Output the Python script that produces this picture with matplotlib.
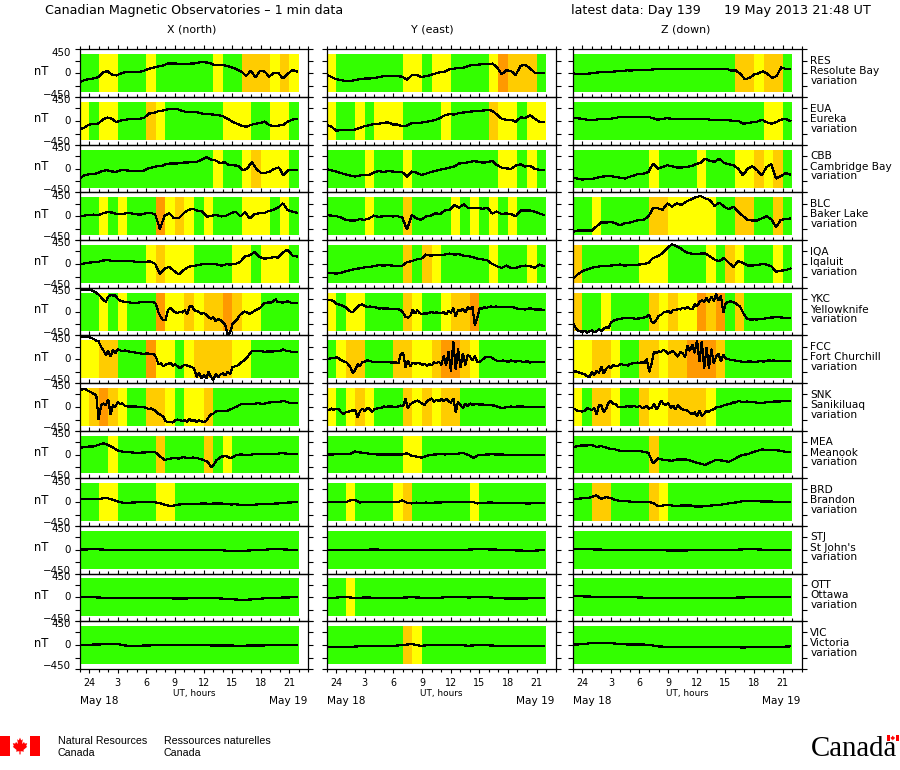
#!/usr/bin/env python3
# Canadian magnetic observatories, 1 min data stack plot
import numpy as np
import matplotlib
matplotlib.use('Agg')
import matplotlib.pyplot as plt
from matplotlib.patches import Polygon, Rectangle

W, H = 900, 770

station_codes = ['RES', 'EUA', 'CBB', 'BLC', 'IQA', 'YKC', 'FCC', 'SNK', 'MEA', 'BRD', 'STJ', 'OTT', 'VIC']
station_names = ['Resolute Bay', 'Eureka', 'Cambridge Bay', 'Baker Lake', 'Iqaluit', 'Yellowknife',
                 'Fort Churchill', 'Sanikiluaq', 'Meanook', 'Brandon', "St John's", 'Ottawa', 'Victoria']
component_titles = ['X (north)', 'Y (east)', 'Z (down)']
hour_ticks = [0, 3, 6, 9, 12, 15, 18, 21]
hour_labels = ['24', '3', '6', '9', '12', '15', '18', '21']

### activity blocks, one letter per hour starting at 23 UT (G green, Y yellow, A amber, O orange)
res_x_act = "GGYYGGGYGGGGGGYGGAAAYAY"
eua_x_act = "YGYYGGGAYGGGGGGYYYGGYYG"
cbb_x_act = "GGGGGGGGGGGGGGYGGYAYYYG"
blc_x_act = "GGYGYGGGOYAYGYGGGYYYGYG"
iqa_x_act = "GGGGGGGYAYYYGGGGYYGYYYG"
ykc_x_act = "GGYGYGGGOYYAYAAOAYYGGGG"
fcc_x_act = "YYAAGGGOYYGYAAAAYYGGGGG"
snk_x_act = "YAOAYGGAAYGYYAGGGGGGGGG"
mea_x_act = "GGGYGGGGAGGGGAGYGGGGGGG"
brd_x_act = "GGYYGGGGYYGGGGGGGGGGGGG"
stj_x_act = "GGGGGGGGGGGGGGGGGGGGGGG"
ott_x_act = "GGGGGGGGGGGGGGGGGGGGGGG"
vic_x_act = "GGGGGGGGGGGGGGGGGGGGGGG"

res_y_act = "YGGGGGGGYYGYYGGGGYOAAAG"
eua_y_act = "YGGYGYYYGGGGYGGGGAYYGYY"
cbb_y_act = "GGGGYGGGYGGGGGGGGGYYGYG"
blc_y_act = "GGGGYGGGAGGGGYGYGYGYGGG"
iqa_y_act = "GGGGGGGGAGAYGGGGGYGGGYG"
ykc_y_act = "YGYYGGGGAYGGYAAOGGGGGGG"
fcc_y_act = "GYAAGGGAAYYAOOAYGGGGGGG"
snk_y_act = "YGYAYGGGAYAYAAGGGGGGGGG"
mea_y_act = "GGGGGGGGYYGGGGGGGGGGGGG"
brd_y_act = "GGYGGGGYAGGGGGGYGGGGGGG"
stj_y_act = "GGGGGGGGGGGGGGGGGGGGGGG"
ott_y_act = "GGYGGGGGGGGGGGGGGGGGGGG"
vic_y_act = "GGGGGGGGAYGGGGGGGGGGGGG"

res_z_act = "GGGGGGGGGGGGGGGGGAAYAAG"
eua_z_act = "GGGGGGGGGGGGGGGGGGGGYYG"
cbb_z_act = "GGGGGGGGYGGGGYGGGYYAYAG"
blc_z_act = "GGYGGGGGAAYYYYYGGAAGGAG"
iqa_z_act = "AGGGGGGYYYGGGGYGAYGGGYG"
ykc_z_act = "AGGYGGGGAYAYYOAOGAGGGGG"
fcc_z_act = "YYAAYGGAAYAAOOOAGGGGGGG"
snk_z_act = "YGAAYGGAYYAAAAYGGGGGGGG"
mea_z_act = "GGGGGGGGAGGGGGGGGGGGGGG"
brd_z_act = "GGAAGGGGAYGGGGGGGGGGGGG"
stj_z_act = "GGGGGGGGGGGGGGGGGGGGGGG"
ott_z_act = "GGGGGGGGGGGGGGGGGGGGGGG"
vic_z_act = "GGGGGGGGGGGGGGGGGGGGGGG"

### variation in nT, evenly spaced from 23 UT to 21:48 UT
res_x = [-215,-165,-140,-120,-95,15,50,-30,-50,0,30,30,25,30,65,110,135,165,180,230,235,230,220,220,230,235,260,260,250,200,205,195,175,135,95,40,-65,60,-95,60,40,-80,15,0,-125,-15,80,40]
eua_x = [-205,-160,-90,-65,-65,30,80,50,-30,15,30,50,50,50,80,175,190,230,245,275,290,290,245,215,205,215,190,165,160,150,140,110,50,-15,-65,-110,-140,-95,-65,-50,-15,-95,-125,-110,-95,-15,30,50]
cbb_x = [-230,-165,-135,-125,-110,-55,-40,-65,-80,-40,-40,-50,-50,-65,-55,0,25,55,55,100,120,120,125,145,145,165,165,215,275,215,195,135,150,80,80,65,-40,0,155,0,-100,-100,-70,-5,25,-160,-40,-40,-30]
blc_x = [0,15,30,40,25,70,100,85,45,45,75,70,45,40,70,80,45,-300,15,70,-50,-50,70,150,175,130,110,-10,15,30,-5,15,70,110,-5,95,-50,50,70,70,125,150,205,305,150,110,85]
iqa_x = [-15,10,30,40,50,80,90,70,70,60,65,65,50,50,50,60,0,-240,-110,-70,-170,-250,-150,-70,-50,-30,-10,0,-5,-10,-40,-10,-15,0,50,180,205,275,165,125,135,160,150,270,340,200,175]
ykc_x = [510,515,520,520, 515,505,480,450, 400,340,280,230, 350,390,380,385,
         300,260,240,225, 230,215,210,205, 210,215,225,225, 230,225,225,225,
         180,-20,-130,-210, -190,40,80,30, -20,-30,-10,-20, 30,-60,110,140,
         30,10,-10,-60, -30,-80,-130,-170, -140,-230,-180,-200, -250,-320,-560,-500,
         -300,-240,-180,-90, -40,0,-20,-50, -30,10,40,70, 110,190,200,215,
         210,240,290,220, 220,210,230,240, 220,200,200,210]
fcc_x = [540,535,530,525, 525,500,480,440, 420,300,210,100, 200,60,220,140,
         240,210,190,210, 195,180,170,160, 150,145,130,125, 140,130,125,130,
         50,-120,-100,-170, -130,-110,-90,-150, -120,-170,-210,-170, -130,-150,-170,-180,
         -230,-420,-320,-450, -380,-460,-300,-420, -490,-350,-430,-360, -340,-380,-300,-350,
         -190,-170,-150,-110, -60,-20,40,110, 190,195,190,190, 200,180,180,185,
         180,185,190,190, 200,230,210,190, 190,165,170,175]
snk_x = [400,410,430,400, 370,340,300,280, -300,30,80,40, 170,-170,40,0,
         110,70,80,20, 10,10,10,10, 5,0,0,-5, -30,-50,-40,-70,
         -100,-170,-190,-230, -340,-360,-360,-370, -320,-300,-320,-330, -320,-350,-290,-340,
         -300,-360,-320,-340, -360,-330,-250,-170, -160,-110,-100,-105, -100,-100,-90,-60,
         -40,-10,10,50, 70,70,65,60, 70,65,85,85, 75,75,85,100,
         105,110,110,120, 120,140,130,110, 95,90,85,85]
mea_x = [165,170,190,190,230,265,230,170,100,70,50,50,40,45,50,50,55,-40,-130,-100,-80,-100,-60,-90,-70,-90,-120,-170,-310,-130,-50,-40,-90,-20,0,-5,-10,10,15,10,15,5,20,35,15,15,20]
brd_x = [70,70,70,70,75,90,90,60,20,-10,-15,-10,-5,-5,-5,-5,-5,-20,-60,-90,-80,-55,-50,-50,-50,-40,-30,-35,-35,-30,-30,-45,-55,-50,-65,-75,-75,-60,-50,-50,-40,-35,-30,-20,-10,-5,0]
stj_x = [5,10,10,0,0,0,-5,5,5,0,5,5,5,5,0,-10,-30,-30,-15,-10,10,15,5,5]
ott_x = [15,5,0,-15,-20,-15,-10,-10,-10,-15,-25,-25,-20,-10,-10,-25,-40,-55,-50,-30,-15,-5,0,5]
vic_x = [10,10,15,20,25,-15,-15,-10,-5,-5,5,10,10,5,-10,-10,-10,-15,-10,-10,-5,5,0,5]

res_y = [-40,-85,-140,-160,-180,-180,-165,-140,-125,-125,-110,-95,-70,-65,-70,-70,-80,-150,-50,-40,-85,-70,-40,-5,25,40,95,110,135,135,175,200,205,215,215,230,150,-25,70,55,-40,175,200,120,15,15,15]
eua_y = [-95,-135,-230,-220,-215,-205,-205,-165,-125,-100,-70,-65,-50,-30,-85,-85,-125,-110,-55,-40,-40,-25,0,25,70,135,165,150,190,200,215,230,245,245,260,245,150,55,25,30,-25,85,70,135,55,-25,-25]
cbb_y = [-15,-40,-70,-105,-135,-165,-190,-165,-150,-150,-95,-55,-85,-55,-70,-85,-85,-190,-70,-95,-150,-120,-85,-55,-25,-5,25,50,120,135,150,175,165,140,150,180,85,25,5,-5,70,100,50,70,-5,-30,-30]
blc_y = [30,15,5,-30,-85,-100,-100,-70,-85,-50,15,-15,0,5,-5,0,-30,-320,30,-50,-85,-5,15,70,50,135,150,270,205,285,190,190,205,175,205,65,110,50,70,50,0,135,135,135,110,65,30]
iqa_y = [-215,-215,-230,-215,-175,-150,-120,-105,-85,-70,-55,-30,-40,-30,-40,-55,-40,40,65,105,120,220,195,210,220,220,245,220,230,195,180,160,120,105,85,0,-55,-95,-40,-95,-95,-55,-40,-55,-95,-15,-55]
ykc_y = [260,270,265,250, 180,170,150,130, 100,50,0,-20, 60,120,160,170,
         130,110,120,100, 110,90,70,80, 70,75,70,70, 70,70,60,30,
         -30,-130,-140,-110, 40,-50,30,-40, -60,-40,-50,-30, -10,-30,-20,-30,
         -30,-20,-70,20, -30,80,-120,40, 20,70,-20,100, 50,120,-320,-160,
         80,70,100,90, 110,120,100,120, 100,110,100,100, 110,110,110,80,
         70,70,60,50, 60,80,60,50, 50,50,45,45]
fcc_y = [10,10,30,20, 50,20,-20,-50, -60,-120,-200,-340, -240,-120,-170,-60,
         -60,-30,-40,-60, -70,-70,-70,-75, -70,-70,-65,-80, -75,-80,-100,110,
         150,-190,-30,-170, -80,-110,-90,-100, -130,-110,-150,-120, -140,-80,-90,-60,
         -130,80,-150,170, -280,420,-250,250, -200,140,-140,100, 60,-30,70,-60,
         -60,-20,30,60, 60,40,0,-30, -50,-40,-30,-50, -60,-30,-40,-60,
         -40,-40,-70,-70, -40,-80,-70,-70, -60,-70,-70,-70]
snk_y = [-50,-80,-40,-70, -50,-50,-120,-170, -130,-120,-100,-80, -90,-250,-100,-40,
         -100,-30,-40,-120, -60,-40,-20,-20, 10,0,10,10, 0,-10,10,30,
         10,200,-40,60, 100,130,150,120, 70,50,140,170, 200,120,170,130,
         180,140,190,130, 100,200,-130,120, 40,-30,70,20, 80,50,60,70,
         50,60,50,40, 50,40,30,20, -10,-20,-20,-10, -10,10,-5,0,
         10,10,10,0, 0,-5,-10,0, 0,0,0,0]
mea_y = [0,0,5,10,15,15,70,50,35,20,5,0,0,0,0,0,0,30,-30,-50,-75,-40,-5,0,15,0,20,5,25,30,-10,-85,-15,-5,0,5,0,0,-5,-5,-5,-15,-15,-15,-15,-20,-20]
brd_y = [-5,0,5,0,-5,45,50,-10,5,0,0,0,0,0,0,0,40,-15,-30,-10,-25,-10,-15,-10,-10,5,-5,5,5,5,5,0,-30,-25,-10,-10,-15,-15,-20,-15,-15,-15,-30,-30,-15,-20,-20]
stj_y = [-5,-5,-5,-10,0,10,0,0,0,0,0,0,5,5,5,5,15,10,5,0,-15,-20,-20,-5]
ott_y = [-5,-5,15,-15,0,-5,-5,-5,-5,5,-5,-5,-5,10,15,0,5,5,-10,-25,-25,-25,-15,-15]
vic_y = [-40,-40,-40,-35,-20,-20,-20,-20,0,25,-20,10,10,10,5,-15,0,-5,-15,-15,-20,-15,-20,-20]

res_z = [0,-15,-15,-15,0,15,25,30,30,40,50,55,70,65,80,80,80,85,95,105,105,105,105,105,105,105,110,110,105,105,110,105,105,105,105,65,65,-15,-140,-110,-30,0,50,-15,-110,-65,140,105,95]
eua_z = [70,65,50,30,30,30,50,50,50,70,95,95,95,95,95,95,95,65,30,50,65,50,50,50,50,50,50,50,50,30,25,25,25,15,5,5,-65,-50,-30,-15,30,-30,-65,-30,30,50,0]
cbb_z = [-215,-235,-260,-250,-245,-220,-195,-180,-180,-195,-215,-235,-195,-160,-120,-120,-80,120,0,40,80,55,25,25,40,55,105,135,235,180,160,235,135,105,80,0,-160,0,55,-40,-160,40,105,-235,-180,-105,-140]
blc_z = [-370,-340,-340,-340,-340,-245,-150,-150,-135,-165,-215,-165,-150,-120,-85,-85,-5,190,190,150,305,230,305,265,345,400,450,480,425,385,245,325,230,165,230,110,5,-85,-100,-100,-50,0,-70,-260,-85,-65,-55]
iqa_z = [-370,-250,-175,-135,-95,-70,-55,-50,-40,-30,-15,-40,-25,-25,-15,-5,25,140,180,260,380,460,420,355,275,245,235,245,245,180,100,65,140,25,-70,65,25,-40,-40,-25,-5,-15,-55,-190,-160,-150,-110]
ykc_z = [-260,-370,-440,-470, -480,-450,-500,-470, -450,-490,-470,-420, -470,-400,-370,-400,
         -260,-220,-200,-180, -170,-160,-150,-150, -150,-160,-170,-170, -160,-160,-140,-130,
         -70,-240,-270,-190, -100,-80,-20,-10, 10,-30,40,30, 60,50,90,70,
         100,70,50,170, 120,220,270,230, 320,230,360,250, 420,260,370,-30,
         200,230,240,220, 210,160,120,0, -100,-170,-190,-190, -185,-190,-180,-170,
         -170,-160,-150,-140, -140,-120,-130,-140, -145,-145,-150,-150]
fcc_z = [-270,-290,-300,-320, -340,-360,-400,-430, -310,-380,-270,-320, -180,-340,-230,-170,
         -210,-130,-170,-160, -110,-130,-140,-150, -110,-100,-90,-80, -90,-70,-90,10,
         -300,-100,170,150, 190,170,230,180, 130,170,190,130, 60,170,140,50,
         320,200,350,150, 450,-60,430,-220, 280,-220,240,-100, 60,130,-50,110,
         15,10,-20,-20, -30,-50,-50,-60, -70,-60,-50,-60, -60,-60,-50,-50,
         -60,-40,-25,-40, -30,-40,-45,-45, -50,-50,-50,-50]
snk_z = [-30,-60,-90,-90, -110,-100,-30,-50, -80,-30,-170,30, 30,-130,-40,100,
         150,60,70,-10, 5,-10,5,15, 5,10,15,-10, 30,-30,-10,20,
         -40,-30,80,-60, 20,150,60,50, 90,-20,30,-60, 40,-30,-60,-80,
         -90,-140,-170,-130, -220,-100,-210,-170, -90,-120,-70,-60, -10,-10,10,30,
         50,60,70,110, 100,130,130,110, 110,130,110,110, 110,100,95,90,
         100,110,110,120, 125,125,125,130, 135,135,130,130]
mea_z = [165,200,215,215,230,180,200,165,135,120,85,85,85,80,80,65,40,-215,-95,-120,-135,-150,-120,-120,-120,-150,-190,-215,-250,-195,-140,-135,-150,-175,-120,-55,-5,5,55,85,120,105,105,105,85,65,65]
brd_z = [70,80,90,95,120,160,80,120,100,50,30,25,15,5,5,5,0,-15,-95,-80,-65,-80,-95,-80,-80,-80,-105,-105,-95,-85,-70,-65,-50,-30,-15,0,25,25,25,25,15,15,15,5,5,0,0]
stj_z = [15,15,10,5,5,5,0,0,0,-10,-15,-15,-15,-10,-5,0,0,0,10,15,5,0,0,0]
ott_z = [25,25,20,15,10,5,5,0,-10,-15,-15,-15,-15,-10,-5,-5,-5,-5,0,5,5,5,5,5]
vic_z = [10,20,50,55,50,20,15,15,10,-30,-40,-40,-40,-40,-40,-40,-40,-40,-60,-40,-40,-40,-40,-30]

x_rows = [res_x, eua_x, cbb_x, blc_x, iqa_x, ykc_x, fcc_x, snk_x, mea_x, brd_x, stj_x, ott_x, vic_x]
y_rows = [res_y, eua_y, cbb_y, blc_y, iqa_y, ykc_y, fcc_y, snk_y, mea_y, brd_y, stj_y, ott_y, vic_y]
z_rows = [res_z, eua_z, cbb_z, blc_z, iqa_z, ykc_z, fcc_z, snk_z, mea_z, brd_z, stj_z, ott_z, vic_z]
x_acts = [res_x_act, eua_x_act, cbb_x_act, blc_x_act, iqa_x_act, ykc_x_act, fcc_x_act, snk_x_act, mea_x_act, brd_x_act, stj_x_act, ott_x_act, vic_x_act]
y_acts = [res_y_act, eua_y_act, cbb_y_act, blc_y_act, iqa_y_act, ykc_y_act, fcc_y_act, snk_y_act, mea_y_act, brd_y_act, stj_y_act, ott_y_act, vic_y_act]
z_acts = [res_z_act, eua_z_act, cbb_z_act, blc_z_act, iqa_z_act, ykc_z_act, fcc_z_act, snk_z_act, mea_z_act, brd_z_act, stj_z_act, ott_z_act, vic_z_act]

level_colors = {'G': '#33ff00', 'Y': '#ffff00', 'A': '#ffcc00', 'O': '#ff9900'}

col_lefts = [79.5, 326.6, 572.7]
col_width = 229.0
row_zero = 73.3
row_step = 47.65
row_half = row_step / 2
ylim = 565


def fx(px):
    return px / W


def fy(py):
    return 1 - py / H


def put(px, py, s, **kw):
    kw.setdefault('va', 'center')
    kw.setdefault('color', 'k')
    return fig.text(fx(px), fy(py), s, **kw)


def flag(x0, y0, w, h):
    # red bars and the maple leaf
    bar = w / 4
    for left in (x0, x0 + w - bar):
        fig.patches.append(Rectangle((fx(left), fy(y0 + h)), bar / W, h / H,
                                     transform=fig.transFigure, color='#ff0000', lw=0))
    leaf = [(0, -.42), (.06, -.28), (.14, -.34), (.1, -.1), (.2, -.2), (.24, -.12), (.36, -.14), (.31, 0),
            (.36, .04), (.17, .2), (.2, .28), (.03, .26), (.03, .42), (-.03, .42), (-.03, .26), (-.2, .28),
            (-.17, .2), (-.36, .04), (-.31, 0), (-.36, -.14), (-.24, -.12), (-.2, -.2), (-.1, -.1), (-.14, -.34), (-.06, -.28)]
    cx, cy = x0 + w / 2, y0 + h / 2
    pts = [(fx(cx + a * h), fy(cy + b * h)) for a, b in leaf]
    fig.patches.append(Polygon(pts, closed=True, transform=fig.transFigure, color='#ff0000', lw=0))


fig = plt.figure(figsize=(W / 100, H / 100), dpi=100, facecolor='white')

for c, (rows, acts) in enumerate(zip([x_rows, y_rows, z_rows], [x_acts, y_acts, z_acts])):
    for r, (vals, act) in enumerate(zip(rows, acts)):
        zero = row_zero + r * row_step
        bottom = zero + row_half
        ax = fig.add_axes([fx(col_lefts[c]), fy(bottom), col_width / W, row_step / H])
        ax.set_xlim(-1, 23)
        ax.set_ylim(-ylim, ylim)
        ax.patch.set_alpha(0)

        for h, level in enumerate(act):
            ax.fill_between([h - 1, h], -450, 450, color=level_colors[level], lw=0, antialiased=False, zorder=1)

        t = np.linspace(-1, 21.8, len(vals))
        ax.plot(t, vals, color='k', lw=0.85, antialiased=False, solid_joinstyle='miter', zorder=3)

        for s in ax.spines.values():
            s.set_linewidth(0.9)
            s.set_zorder(4)
        ax.set_xticks(hour_ticks)
        ax.set_xticks(np.arange(-1, 24), minor=True)
        ax.set_yticks([-ylim, -300, 0, 300, ylim])
        ax.tick_params(axis='y', which='major', left=True, right=True, direction='out',
                       length=3.4, width=0.8, labelleft=False)
        last = r == len(rows) - 1
        ax.tick_params(axis='x', which='major', top=True, bottom=last, direction='out',
                       length=3.2, width=0.8, labelbottom=False)
        ax.tick_params(axis='x', which='minor', top=True, bottom=last, direction='out',
                       length=2, width=0.8)

        if c == 0:
            put(41, zero - 2, 'nT', ha='center', fontsize=8.3)
            put(71, zero - 20.6, '450', ha='right', fontsize=7.4)
            put(71, zero, '0', ha='right', fontsize=7.4)
            put(71, zero + 21.2, '\u2212450', ha='right', fontsize=7.4)
        if c == 2:
            lx = col_lefts[c] + col_width + 8.5
            put(lx, zero - 12.3, station_codes[r], ha='left', fontsize=7.6)
            put(lx, zero - 2, station_names[r], ha='left', fontsize=7.6)
            put(lx, zero + 7.7, 'variation', ha='left', fontsize=7.6)
        if last:
            for tick, lab in zip(hour_ticks, hour_labels):
                tx = col_lefts[c] + (tick + 1) / 24 * col_width
                put(tx, 682.7, lab, ha='center', fontsize=6.9)
            put(col_lefts[c] + 114.5, 693.8, 'UT, hours', ha='center', fontsize=6.4)
            put(col_lefts[c], 701.5, 'May 18', ha='left', fontsize=7.6)
            put(col_lefts[c] + col_width - 1, 701.5, 'May 19', ha='right', fontsize=7.6)

put(45, 10.5, 'Canadian Magnetic Observatories \u2013 1 min data', ha='left', fontsize=9.1)
put(571, 10.5, 'latest data: Day 139', ha='left', fontsize=9.1)
put(724, 10.5, '19 May 2013 21:48 UT', ha='left', fontsize=9.3)
put(192, 29.5, component_titles[0], ha='center', fontsize=7.9)
put(432, 29.5, component_titles[1], ha='center', fontsize=7.9)
put(686, 29.5, component_titles[2], ha='center', fontsize=7.9)

# footer
flag(0, 736, 40, 20)
put(58, 740.5, 'Natural Resources', ha='left', family='Liberation Sans', fontsize=7.7)
put(58, 752.5, 'Canada', ha='left', family='Liberation Sans', fontsize=7.7)
put(164, 740.5, 'Ressources naturelles', ha='left', family='Liberation Sans', fontsize=7.7)
put(164, 752.5, 'Canada', ha='left', family='Liberation Sans', fontsize=7.7)
put(811, 755.5, 'Canada', ha='left', va='baseline', family='Liberation Serif', fontsize=20.8)
flag(887, 735, 11.5, 6)

fig.savefig('out.png', dpi=100, facecolor='white')
